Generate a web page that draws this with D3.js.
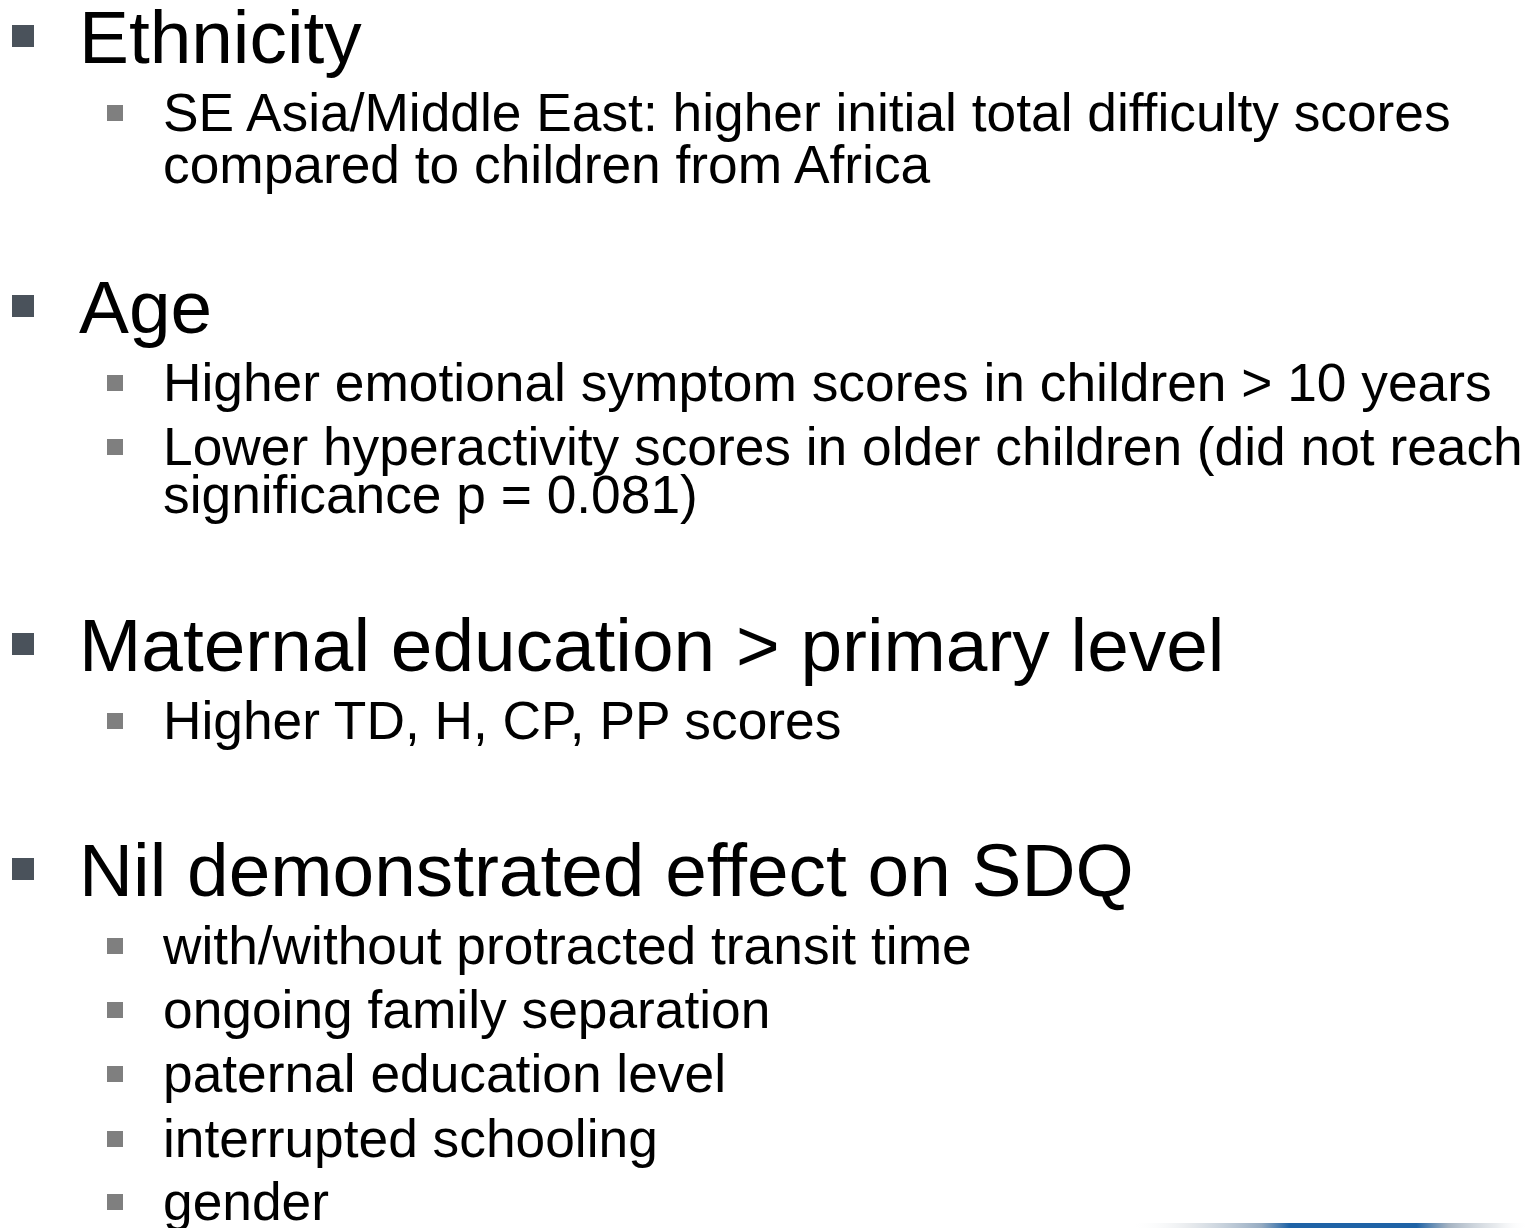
<!DOCTYPE html>
<html>
<head>
<meta charset="utf-8">
<script src="https://cdn.jsdelivr.net/npm/d3@7"></script>
<style>
  html, body { margin: 0; padding: 0; background: #ffffff; }
  svg { display: block; }
</style>
</head>
<body>
<svg id="slide" width="1528" height="1228"></svg>
<script>
// ---- content ----
const headings = [
  "Ethnicity",
  "Age",
  "Maternal education > primary level",
  "Nil demonstrated effect on SDQ"
];
const ethnicityItems = [
  ["SE Asia/Middle East: higher initial total difficulty scores", "compared to children from Africa"]
];
const ageItems = [
  ["Higher emotional symptom scores in children > 10 years"],
  ["Lower hyperactivity scores in older children (did not reach", "significance p = 0.081)"]
];
const maternalItems = [
  ["Higher TD, H, CP, PP scores"]
];
const nilItems = [
  ["with/without protracted transit time"],
  ["ongoing family separation"],
  ["paternal education level"],
  ["interrupted schooling"],
  ["gender"]
];
const subItems = [ethnicityItems, ageItems, maternalItems, nilItems];

// ---- layout (baselines in px) ----
const headingBaselines = [63, 333, 671, 896];
const subBaselines = [
  [[131, 183]],
  [[401], [465, 513]],
  [[739]],
  [[964], [1028], [1092], [1157], [1220]]
];

const svg = d3.select("#slide");
const font = "'Liberation Sans', Arial, Helvetica, sans-serif";

// footer gradient bar
const defs = svg.append("defs");
const grad = defs.append("linearGradient").attr("id", "footerGrad")
  .attr("x1", "0%").attr("x2", "100%").attr("y1", "0%").attr("y2", "0%");
[
  [0, "#ffffff", 0],
  [0.15, "#d8dde2", 0.6],
  [0.33, "#8aa2bb", 0.9],
  [0.4, "#1f63a6", 1],
  [0.72, "#1f63a6", 1],
  [0.8, "#9aaabb", 0.9],
  [0.92, "#d8dde2", 0.6],
  [1, "#ffffff", 0]
].forEach(([o, c, a]) => grad.append("stop").attr("offset", o).attr("stop-color", c).attr("stop-opacity", a));
svg.append("rect").attr("x", 1130).attr("y", 1223).attr("width", 398).attr("height", 5)
  .attr("fill", "url(#footerGrad)");

headings.forEach((h, i) => {
  const b = headingBaselines[i];
  svg.append("rect").attr("x", 12).attr("y", b - 38).attr("width", 22).attr("height", 22)
    .attr("fill", "#4a525b");
  svg.append("text")
    .attr("transform", `translate(79,${b}) scale(1.011,1)`)
    .attr("font-family", font).attr("font-size", 74).attr("fill", "#000")
    .text(h);

  subItems[i].forEach((lines, j) => {
    const bl = subBaselines[i][j];
    svg.append("rect").attr("x", 107).attr("y", bl[0] - 26).attr("width", 16).attr("height", 16)
      .attr("fill", "#7f7f7f");
    lines.forEach((ln, k) => {
      svg.append("text")
        .attr("x", 163).attr("y", bl[k])
        .attr("font-family", font).attr("font-size", 53.3).attr("fill", "#000")
        .text(ln);
    });
  });
});
</script>
</body>
</html>
